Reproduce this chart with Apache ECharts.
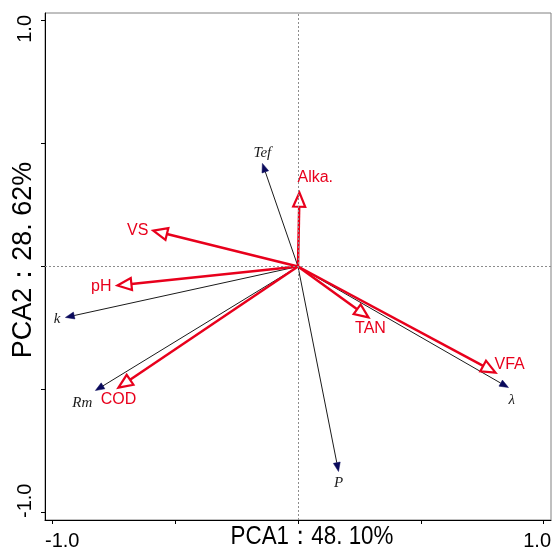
<!DOCTYPE html>
<html><head><meta charset="utf-8">
<script src="https://cdn.jsdelivr.net/npm/echarts@6/dist/echarts.min.js"></script>
<style>html,body{margin:0;padding:0;background:#fff}#c{width:553px;height:549px}</style>
</head><body><div id="c"></div>
<script>
// ---- data ----
const envNames = ['Tef', 'k', 'Rm', 'P', 'λ'];
const envX = [-0.145, -0.947, -0.825, 0.165, 0.857];
const envY = [0.419, -0.207, -0.504, -0.833, -0.492];
const varNames = ['Alka.', 'VS', 'pH', 'COD', 'TAN', 'VFA'];
const varX = [0.006, -0.589, -0.735, -0.731, 0.287, 0.804];
const varY = [0.300, 0.146, -0.077, -0.492, -0.207, -0.431];
const tickValues = [-1, -0.5, 0, 0.5, 1];
const tickLabelValues = [-1, 1];
const xTitle = 'PCA1：48. 10%';
const yTitle = 'PCA2：28. 62%';

// ---- label placement (align, verticalAlign, dx, dy relative to arrow tip) ----
const labelPlace = {
  'Tef': ['center', 'bottom', 0, -3],
  'k': ['right', 'middle', -5, 2],
  'Rm': ['right', 'top', -3, 5],
  'P': ['center', 'top', 0, 4],
  'λ': ['left', 'top', 0, 5],
  'Alka.': ['left', 'bottom', -2, -7],
  'VS': ['right', 'middle', -5, 0],
  'pH': ['right', 'middle', -6, 1],
  'COD': ['center', 'top', 0, 4],
  'TAN': ['center', 'top', 2, 3],
  'VFA': ['left', 'bottom', -1, 0]
};

const RED = '#e8001c', NAVY = '#0a0a5c', BLACK = '#1a1a1a';

function makeArrow(names, kind) {
  return function (params, api) {
    const i = params.dataIndex;
    const o = api.coord([0, 0]);
    const t = api.coord([api.value(0), api.value(1)]);
    const dx = t[0] - o[0], dy = t[1] - o[1];
    const L = Math.hypot(dx, dy);
    const ux = dx / L, uy = dy / L, px = -uy, py = ux;
    const isVar = kind === 'var';
    const hl = isVar ? 14 : 9, hw = isVar ? 6 : 3.5;
    const bx = t[0] - ux * hl, by = t[1] - uy * hl;
    const name = names[i];
    const pl = labelPlace[name];
    return {
      type: 'group',
      children: [
        {
          type: 'line',
          shape: { x1: o[0], y1: o[1], x2: bx, y2: by },
          style: { stroke: isVar ? RED : BLACK, lineWidth: isVar ? 2.5 : 1 }
        },
        {
          type: 'polygon',
          shape: { points: [[t[0], t[1]], [bx + px * hw, by + py * hw], [bx - px * hw, by - py * hw]] },
          style: isVar ? { fill: '#fff', stroke: RED, lineWidth: 2.2, lineJoin: 'miter' } : { fill: NAVY, stroke: NAVY, lineWidth: 0.5 }
        },
        {
          type: 'text',
          x: t[0] + pl[2], y: t[1] + pl[3],
          style: {
            text: name,
            fill: isVar ? RED : BLACK,
            fontSize: isVar ? 16 : 15,
            fontFamily: isVar ? 'Liberation Sans, Arial, sans-serif' : 'Liberation Serif, Times New Roman, serif',
            fontStyle: isVar ? 'normal' : 'italic',
            align: pl[0], verticalAlign: pl[1]
          }
        }
      ]
    };
  };
}

const axisCommon = {
  type: 'value', min: -1.03, max: 1.03,
  axisLine: { show: true, onZero: false, lineStyle: { color: '#000', width: 1 } },
  axisTick: { show: true, customValues: tickValues, length: 4, lineStyle: { color: '#000', width: 1 } },
  axisLabel: { show: false },
  splitLine: { show: false }
};

const chart = echarts.init(document.getElementById('c'));
chart.setOption({
  animation: false,
  grid: { left: 45, right: 2, top: 13, bottom: 29, show: true, borderColor: '#808080', borderWidth: 1, containLabel: false },
  xAxis: axisCommon,
  yAxis: axisCommon,
  series: [
    {
      type: 'custom', name: 'env', z: 2,
      renderItem: makeArrow(envNames, 'env'),
      data: envX.map((x, i) => [x, envY[i]]),
      markLine: {
        silent: true, symbol: 'none', label: { show: false }, animation: false,
        lineStyle: { color: '#8c8c8c', type: [2, 2], width: 1 },
        data: [{ xAxis: 0 }, { yAxis: 0 }]
      }
    },
    {
      type: 'custom', name: 'var', z: 3,
      renderItem: makeArrow(varNames, 'var'),
      data: varX.map((x, i) => [x, varY[i]])
    }
  ]
});

// tick labels and axis titles
const gr = chart.getModel().getComponent('grid').coordinateSystem.getRect();
const tickFont = { fontSize: 20, fontFamily: 'Liberation Sans, Arial, sans-serif', fill: '#000' };
const graphics = [];
tickLabelValues.forEach(v => {
  const txt = v.toFixed(1);
  graphics.push({
    type: 'text', x: v < 0 ? gr.x : gr.x + gr.width, y: gr.y + gr.height + 11,
    style: Object.assign({ text: txt, align: v < 0 ? 'left' : 'right', verticalAlign: 'top' }, tickFont)
  });
  graphics.push({
    type: 'text', x: gr.x - 20, y: v < 0 ? gr.y + gr.height - 2 : gr.y + 2, rotation: Math.PI / 2,
    style: Object.assign({ text: txt, align: v < 0 ? 'left' : 'right', verticalAlign: 'middle' }, tickFont)
  });
});
graphics.push({
  type: 'text', x: 312, y: gr.y + gr.height + 17, scaleX: 0.86,
  style: { text: xTitle, fontSize: 26, fontFamily: 'Liberation Sans, Arial, sans-serif', fill: '#000', align: 'center', verticalAlign: 'middle' }
});
graphics.push({
  type: 'text', x: 24, y: 260, rotation: Math.PI / 2,
  style: { text: yTitle, fontSize: 27, fontFamily: 'Liberation Sans, Arial, sans-serif', fill: '#000', align: 'center', verticalAlign: 'middle' }
});
chart.setOption({ graphic: graphics });
</script>
</body></html>
